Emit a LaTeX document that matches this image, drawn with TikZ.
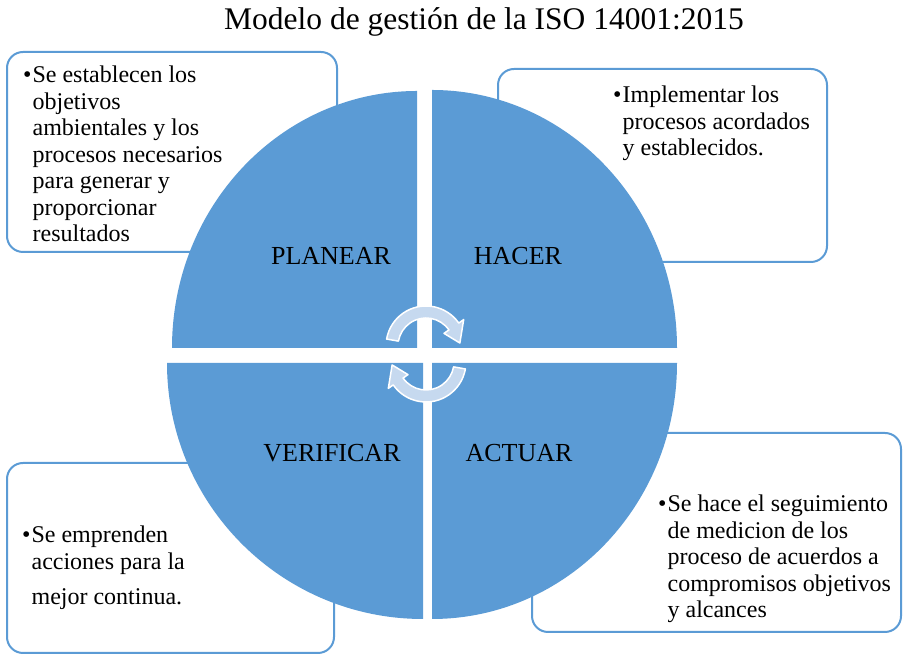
\documentclass[tikz,border=0pt]{standalone}
\usepackage{fontspec}
\setmainfont{Liberation Serif}
\usetikzlibrary{calc}
\definecolor{pdca}{HTML}{5B9BD5}
\definecolor{cyc}{HTML}{C6D9EF}
\begin{document}
\begin{tikzpicture}[x=1pt,y=1pt,
  infobox/.style={draw=pdca, line width=2pt, rounded corners=16pt, fill=white},
  quad/.style={fill=pdca},
  phase/.style={font=\fontsize{26}{30}\selectfont, anchor=base, inner sep=0pt},
  bodytext/.style={font=\fontsize{24}{26.5}\selectfont, anchor=base west, inner sep=0pt},
  cyclearrow/.style={fill=cyc, draw=white, line width=1.5pt, line join=round}]
\useasboundingbox (0,0) rectangle (903,655);
\node[font=\fontsize{31.5}{36}\selectfont, anchor=base, inner sep=0pt] (title) at (484,625) {Modelo de gestión de la ISO 14001:2015};
% boxes
\draw[infobox] (7,403) rectangle (337,603);
\draw[infobox] (498,393) rectangle (827,586);
\draw[infobox] (532,23) rectangle (901,222);
\draw[infobox] (7,2) rectangle (334,192);
% quadrants
\fill[quad] (417,307) -- (172,307) arc[start angle=180, end angle=90, x radius=245, y radius=257] -- cycle;
\fill[quad] (432,307) -- (432,565) arc[start angle=90, end angle=0, x radius=245, y radius=258] -- cycle;
\fill[quad] (423,292) -- (167,292) arc[start angle=180, end angle=270, x radius=256, y radius=256] -- cycle;
\fill[quad] (432,292) -- (677,292) arc[start angle=0, end angle=-90, x radius=245, y radius=256] -- cycle;
% phase labels
\node[phase] (plan) at (331,390) {PLANEAR};
\node[phase] (do) at (518,390) {HACER};
\node[phase] (check) at (332,193) {VERIFICAR};
\node[phase] (act) at (519,193) {ACTUAR};
% texts
\node[bodytext] (t1) at (23,572) {\begin{tabular}[t]{@{}l@{\hspace{1pt}}l@{}}
•&Se establecen los\\
&objetivos\\
&ambientales y los\\
&procesos necesarios\\
&para generar y\\
&proporcionar\\
&resultados\end{tabular}};
\node[bodytext] (t2) at (613,552) {\begin{tabular}[t]{@{}l@{\hspace{1pt}}l@{}}
•&Implementar los\\
&procesos acordados\\
&y establecidos.\end{tabular}};
\node[bodytext] (t3) at (658,143) {\begin{tabular}[t]{@{}l@{\hspace{1pt}}l@{}}
•&Se hace el seguimiento\\
&de medicion de los\\
&proceso de acuerdos a\\
&compromisos objetivos\\
&y alcances\end{tabular}};
\node[bodytext] (t4) at (22,112) {\begin{tabular}[t]{@{}l@{\hspace{1pt}}l@{}}
•&Se emprenden\\
&acciones para la\\[9pt]
&mejor continua.\end{tabular}};
% cycle arrows
\coordinate (ca) at (426,309);
\coordinate (cb) at (426,293);
\filldraw[cyclearrow] ($(ca)+(170:40)$) arc[start angle=170, end angle=35, radius=40]
  -- ($(ca)+(35:46)$) -- ($(ca)+(5:34)$) -- ($(ca)+(35:22)$) -- ($(ca)+(35:28)$)
  arc[start angle=35, end angle=170, radius=28] -- cycle;
\filldraw[cyclearrow] ($(cb)+(-10:40)$) arc[start angle=-10, end angle=-145, radius=40]
  -- ($(cb)+(-145:46)$) -- ($(cb)+(-175:34)$) -- ($(cb)+(-145:22)$) -- ($(cb)+(-145:28)$)
  arc[start angle=-145, end angle=-10, radius=28] -- cycle;
\end{tikzpicture}
\end{document}
